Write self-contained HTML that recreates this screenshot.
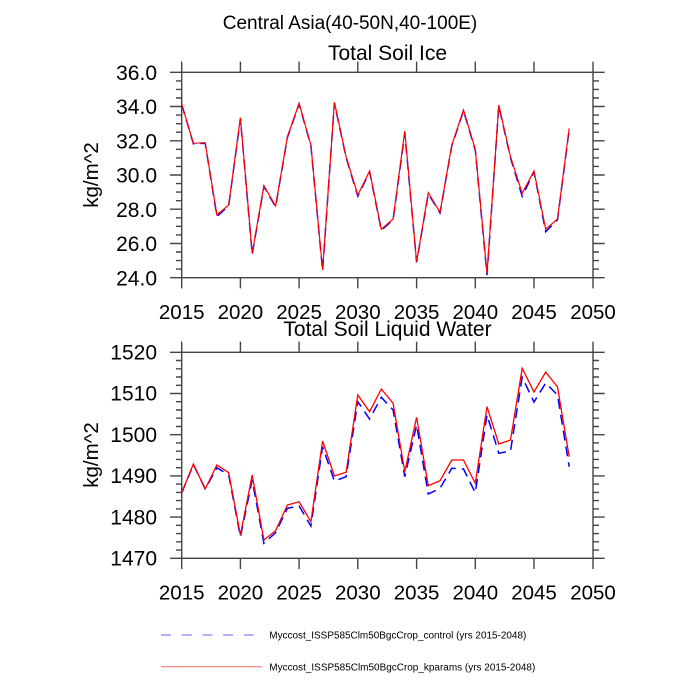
<!DOCTYPE html>
<html><head><meta charset="utf-8"><style>
html,body{margin:0;padding:0;background:#fff;}
svg{display:block;}
text{font-family:"Liberation Sans",sans-serif;fill:#000;}
</style></head><body>
<svg width="700" height="700" viewBox="0 0 700 700" xmlns="http://www.w3.org/2000/svg">
<rect width="700" height="700" fill="#fff"/>
<!-- Titles -->
<text x="350" y="29" font-size="19" text-anchor="middle">Central Asia(40-50N,40-100E)</text>
<text x="387.5" y="60" font-size="21" text-anchor="middle">Total Soil Ice</text>
<text x="387.5" y="336" font-size="21" text-anchor="middle">Total Soil Liquid Water</text>

<!-- ===== TOP PLOT ===== -->
<g stroke="#444" stroke-width="1.4" fill="none">
<rect x="181.7" y="72.3" width="411.3" height="205.4"/>
<path d="M181.7 277.7V288.4M240.4 277.7V288.4M299.1 277.7V288.4M357.8 277.7V288.4M416.6 277.7V288.4M475.3 277.7V288.4M534 277.7V288.4M593 277.7V288.4"/>
<path d="M181.7 72.3V61.6M240.4 72.3V61.6M299.1 72.3V61.6M357.8 72.3V61.6M416.6 72.3V61.6M475.3 72.3V61.6M534 72.3V61.6M593 72.3V61.6"/>
<path d="M170 72.3H181.7M170 106.5H181.7M170 140.8H181.7M170 175H181.7M170 209.2H181.7M170 243.5H181.7M170 277.7H181.7"/>
<path d="M593 72.3H604.7M593 106.5H604.7M593 140.8H604.7M593 175H604.7M593 209.2H604.7M593 243.5H604.7M593 277.7H604.7"/>
<path d="M176 80.9H181.7M176 89.4H181.7M176 98H181.7M176 115.1H181.7M176 123.7H181.7M176 132.2H181.7M176 149.3H181.7M176 157.9H181.7M176 166.4H181.7M176 183.6H181.7M176 192.1H181.7M176 200.7H181.7M176 217.8H181.7M176 226.3H181.7M176 234.9H181.7M176 252H181.7M176 260.6H181.7M176 269.1H181.7"/>
<path d="M593 80.9H599M593 89.4H599M593 98H599M593 115.1H599M593 123.7H599M593 132.2H599M593 149.3H599M593 157.9H599M593 166.4H599M593 183.6H599M593 192.1H599M593 200.7H599M593 217.8H599M593 226.3H599M593 234.9H599M593 252H599M593 260.6H599M593 269.1H599"/>
</g>
<g font-size="21" text-anchor="end">
<text x="157" y="80">36.0</text>
<text x="157" y="114.2">34.0</text>
<text x="157" y="148.5">32.0</text>
<text x="157" y="182.7">30.0</text>
<text x="157" y="216.9">28.0</text>
<text x="157" y="251.2">26.0</text>
<text x="157" y="285.4">24.0</text>
</g>
<g font-size="20.5" text-anchor="middle">
<text x="181.7" y="319">2015</text>
<text x="240.4" y="319">2020</text>
<text x="299.1" y="319">2025</text>
<text x="357.8" y="319">2030</text>
<text x="416.6" y="319">2035</text>
<text x="475.3" y="319">2040</text>
<text x="534" y="319">2045</text>
<text x="593" y="319">2050</text>
</g>
<text font-size="20.5" text-anchor="middle" transform="translate(98,175) rotate(-90)">kg/m^2</text>

<!-- top series -->
<polyline fill="none" stroke="#0000ff" stroke-width="1.5" stroke-dasharray="10 6" points="181.7,104.5 193.4,143.8 205.2,143.2 216.9,216.5 228.7,205.8 240.4,118.5 252.2,254.3 263.9,186.4 275.6,206.8 287.4,137.5 299.1,104 310.9,145.9 322.6,270.8 334.4,103 346.1,157.5 357.8,196.2 369.6,171.8 381.3,230.3 393.1,219.8 404.8,133 416.6,262.3 428.3,193.8 440,213 451.8,145.8 463.5,110.8 475.3,150.3 487,275 498.8,106 510.5,157.8 522.2,196.3 534,171.8 545.7,231.7 557.5,219.8 569.2,129.3"/>
<polyline fill="none" stroke="#ff0000" stroke-width="1.2" points="181.7,104 193.4,143.3 205.2,142.7 216.9,215 228.7,205 240.4,117.7 252.2,253.3 263.9,185.7 275.6,206 287.4,136.7 299.1,103.3 310.9,145 322.6,270 334.4,102.3 346.1,156.7 357.8,195 369.6,171 381.3,229.3 393.1,219 404.8,131 416.6,261.7 428.3,192.7 440,212.3 451.8,145 463.5,110 475.3,149.3 487,273.3 498.8,105 510.5,156.7 522.2,193.3 534,171 545.7,229.3 557.5,219 569.2,128.3"/>

<!-- ===== BOTTOM PLOT ===== -->
<g stroke="#444" stroke-width="1.4" fill="none">
<rect x="181.7" y="352.3" width="411.3" height="206"/>
<path d="M181.7 558.3V569M240.4 558.3V569M299.1 558.3V569M357.8 558.3V569M416.6 558.3V569M475.3 558.3V569M534 558.3V569M593 558.3V569"/>
<path d="M181.7 352.3V341.6M240.4 352.3V341.6M299.1 352.3V341.6M357.8 352.3V341.6M416.6 352.3V341.6M475.3 352.3V341.6M534 352.3V341.6M593 352.3V341.6"/>
<path d="M170 352.3H181.7M170 393.5H181.7M170 434.7H181.7M170 475.9H181.7M170 517.1H181.7M170 558.3H181.7"/>
<path d="M593 352.3H604.7M593 393.5H604.7M593 434.7H604.7M593 475.9H604.7M593 517.1H604.7M593 558.3H604.7"/>
<path d="M176 360.5H181.7M176 368.8H181.7M176 377H181.7M176 385.3H181.7M176 401.7H181.7M176 410H181.7M176 418.2H181.7M176 426.5H181.7M176 442.9H181.7M176 451.2H181.7M176 459.4H181.7M176 467.7H181.7M176 484.1H181.7M176 492.4H181.7M176 500.6H181.7M176 508.9H181.7M176 525.3H181.7M176 533.6H181.7M176 541.8H181.7M176 550.1H181.7"/>
<path d="M593 360.5H599M593 368.8H599M593 377H599M593 385.3H599M593 401.7H599M593 410H599M593 418.2H599M593 426.5H599M593 442.9H599M593 451.2H599M593 459.4H599M593 467.7H599M593 484.1H599M593 492.4H599M593 500.6H599M593 508.9H599M593 525.3H599M593 533.6H599M593 541.8H599M593 550.1H599"/>
</g>
<g font-size="21" text-anchor="end">
<text x="157" y="359.5">1520</text>
<text x="157" y="400.7">1510</text>
<text x="157" y="441.9">1500</text>
<text x="157" y="483.1">1490</text>
<text x="157" y="524.3">1480</text>
<text x="157" y="565.5">1470</text>
</g>
<g font-size="20.5" text-anchor="middle">
<text x="181.7" y="599.3">2015</text>
<text x="240.4" y="599.3">2020</text>
<text x="299.1" y="599.3">2025</text>
<text x="357.8" y="599.3">2030</text>
<text x="416.6" y="599.3">2035</text>
<text x="475.3" y="599.3">2040</text>
<text x="534" y="599.3">2045</text>
<text x="593" y="599.3">2050</text>
</g>
<text font-size="20.5" text-anchor="middle" transform="translate(98,455) rotate(-90)">kg/m^2</text>

<!-- bottom series -->
<polyline fill="none" stroke="#0000ff" stroke-width="1.5" stroke-dasharray="10 6" points="181.7,493 193.4,464.5 205.2,489 216.9,467.7 228.7,475 240.4,536.7 252.2,480 263.9,543.3 275.6,532.7 287.4,508.3 299.1,506 310.9,526 322.6,446.7 334.4,481 346.1,476.7 357.8,401.7 369.6,419 381.3,397.3 393.1,410 404.8,476.7 416.6,425 428.3,494 440,488.3 451.8,468.3 463.5,469 475.3,492.7 487,415 498.8,453.3 510.5,451 522.2,377.3 534,402 545.7,383 557.5,395 569.2,466.7"/>
<polyline fill="none" stroke="#ff0000" stroke-width="1.3" points="181.7,492.7 193.4,464 205.2,489 216.9,465 228.7,472.7 240.4,535 252.2,475 263.9,540 275.6,530.7 287.4,505 299.1,501.7 310.9,521.7 322.6,441 334.4,476 346.1,472.3 357.8,395 369.6,411.7 381.3,389 393.1,403.3 404.8,471.7 416.6,417.3 428.3,485.7 440,480.7 451.8,460 463.5,460 475.3,483.3 487,406.7 498.8,444 510.5,440 522.2,368.3 534,392 545.7,372 557.5,387 569.2,456.7"/>

<!-- Legend -->
<line x1="161" y1="635" x2="255" y2="635" stroke="#0000ff" stroke-opacity="0.6" stroke-width="1" stroke-dasharray="10 10.7"/>
<line x1="161" y1="666.7" x2="262" y2="666.7" stroke="#ff0000" stroke-opacity="0.6" stroke-width="1"/>
<text x="269.3" y="638.3" font-size="10" textLength="257" lengthAdjust="spacingAndGlyphs">Myccost_ISSP585Clm50BgcCrop_control (yrs 2015-2048)</text>
<text x="269.3" y="670.5" font-size="10" textLength="266" lengthAdjust="spacingAndGlyphs">Myccost_ISSP585Clm50BgcCrop_kparams (yrs 2015-2048)</text>
</svg>
</body></html>
